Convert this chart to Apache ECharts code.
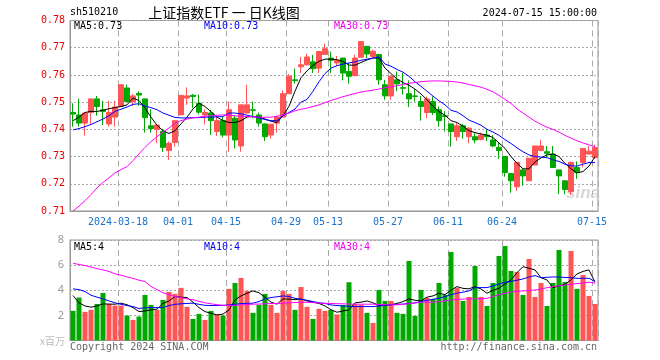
<!DOCTYPE html>
<html><head><meta charset="utf-8">
<script src="https://cdn.jsdelivr.net/npm/echarts@6/dist/echarts.min.js"></script>
<style>html,body{margin:0;padding:0;background:#fff}#c{width:660px;height:360px}</style>
</head><body><div id="c"></div>
<script>
const dates = [
'2024-03-06','2024-03-07','2024-03-08','2024-03-11','2024-03-12','2024-03-13','2024-03-14','2024-03-15',
'2024-03-18','2024-03-19','2024-03-20','2024-03-21','2024-03-22','2024-03-25','2024-03-26','2024-03-27','2024-03-28','2024-03-29',
'2024-04-01','2024-04-02','2024-04-03','2024-04-08','2024-04-09','2024-04-10','2024-04-11','2024-04-12',
'2024-04-15','2024-04-16','2024-04-17','2024-04-18','2024-04-19','2024-04-22','2024-04-23','2024-04-24','2024-04-25','2024-04-26',
'2024-04-29','2024-04-30',
'2024-05-06','2024-05-07','2024-05-08','2024-05-09','2024-05-10','2024-05-13','2024-05-14','2024-05-15','2024-05-16','2024-05-17',
'2024-05-20','2024-05-21','2024-05-22','2024-05-23','2024-05-24','2024-05-27','2024-05-28','2024-05-29','2024-05-30','2024-05-31',
'2024-06-03','2024-06-04','2024-06-05','2024-06-06','2024-06-07','2024-06-11','2024-06-12','2024-06-13','2024-06-14',
'2024-06-17','2024-06-18','2024-06-19','2024-06-20','2024-06-21','2024-06-24','2024-06-25','2024-06-26','2024-06-27','2024-06-28',
'2024-07-01','2024-07-02','2024-07-03','2024-07-04','2024-07-05','2024-07-08','2024-07-09','2024-07-10','2024-07-11','2024-07-12',
'2024-07-15'];
const tickDates = ['2024-03-18','2024-04-01','2024-04-15','2024-04-29','2024-05-13','2024-05-27','2024-06-11','2024-06-24','2024-07-15'];

const opens = [
.7462,.7453,.7423,.7462,.7512,.7472,.7420,.7445,.7484,.7552,
.7502,.7532,.7512,.7413,.7400,.7392,.7322,.7352,.7453,.7515,
.7525,.7496,.7453,.7460,.7392,.7432,.7379,.7441,.7339,.7460,
.7472,.7453,.7420,.7379,.7423,.7445,.7531,.7582,.7630,.7637,
.7648,.7625,.7675,.7662,.7644,.7662,.7613,.7597,.7665,.7705,
.7668,.7675,.7564,.7523,.7582,.7553,.7531,.7523,.7502,.7462,
.7502,.7472,.7450,.7420,.7373,.7413,.7373,.7373,.7363,.7379,
.7361,.7334,.7300,.7238,.7189,.7251,.7211,.7269,.7322,.7318,
.7309,.7251,.7211,.7171,.7260,.7278,.7309,.7296];
const closes = [
.7456,.7423,.7460,.7512,.7484,.7466,.7462,.7482,.7564,.7502,
.7523,.7526,.7443,.7403,.7416,.7334,.7349,.7432,.7525,.7523,
.7521,.7463,.7462,.7432,.7432,.7379,.7472,.7361,.7490,.7490,
.7470,.7423,.7373,.7419,.7445,.7531,.7595,.7579,.7637,.7666,
.7623,.7686,.7696,.7654,.7654,.7607,.7595,.7662,.7723,.7677,
.7687,.7582,.7523,.7595,.7567,.7551,.7512,.7521,.7484,.7512,
.7462,.7432,.7447,.7392,.7413,.7392,.7404,.7361,.7379,.7373,
.7339,.7322,.7241,.7211,.7279,.7229,.7294,.7339,.7339,.7312,
.7260,.7229,.7179,.7278,.7241,.7330,.7320,.7333];
const lows = [
.7410,.7410,.7377,.7419,.7450,.7416,.7410,.7410,.7484,.7502,
.7486,.7486,.7388,.7388,.7349,.7317,.7287,.7336,.7453,.7490,
.7478,.7455,.7418,.7379,.7376,.7371,.7318,.7330,.7318,.7460,
.7441,.7410,.7357,.7366,.7388,.7445,.7531,.7568,.7607,.7634,
.7607,.7607,.7675,.7607,.7634,.7580,.7568,.7597,.7665,.7662,
.7662,.7564,.7509,.7509,.7540,.7528,.7482,.7502,.7432,.7441,
.7453,.7410,.7392,.7336,.7357,.7366,.7349,.7349,.7360,.7357,
.7334,.7291,.7226,.7167,.7174,.7193,.7211,.7269,.7322,.7297,
.7260,.7162,.7162,.7158,.7218,.7260,.7309,.7292];
const highs = [
.7496,.7512,.7462,.7512,.7523,.7505,.7505,.7505,.7564,.7564,
.7530,.7540,.7512,.7474,.7418,.7402,.7355,.7432,.7525,.7554,
.7530,.7528,.7474,.7472,.7445,.7445,.7502,.7453,.7490,.7564,
.7502,.7462,.7420,.7419,.7450,.7543,.7603,.7623,.7666,.7678,
.7674,.7686,.7715,.7686,.7670,.7662,.7644,.7674,.7723,.7705,
.7693,.7675,.7582,.7595,.7613,.7607,.7580,.7548,.7523,.7521,
.7521,.7484,.7466,.7420,.7423,.7420,.7408,.7386,.7388,.7400,
.7379,.7352,.7300,.7238,.7279,.7257,.7294,.7339,.7361,.7339,
.7339,.7251,.7211,.7282,.7282,.7330,.7339,.7343];

const ma5 = [
.7432,.7445,.7462,.7466,.7466,.7470,.7476,.7480,.7484,.7490,
.7515,.7506,.7478,.7445,.7415,.7395,.7385,.7395,.7420,.7445,
.7475,.7496,.7484,.7465,.7445,.7432,.7425,.7425,.7432,.7445,
.7448,.7445,.7438,.7430,.7425,.7450,.7485,.7540,.7590,.7615,
.7635,.7650,.7658,.7658,.7656,.7650,.7636,.7636,.7646,.7655,
.7662,.7662,.7625,.7605,.7585,.7572,.7562,.7548,.7530,.7509,
.7485,.7465,.7452,.7432,.7425,.7412,.7395,.7388,.7383,.7379,
.7370,.7350,.7330,.7300,.7275,.7255,.7255,.7280,.7295,.7306,
.7310,.7300,.7275,.7255,.7240,.7245,.7265,.7300];
const ma10 = [
.7398,.7403,.7410,.7418,.7428,.7438,.7450,.7466,.7474,.7482,
.7492,.7494,.7485,.7480,.7472,.7460,.7452,.7444,.7442,.7442,
.7443,.7443,.7445,.7445,.7446,.7447,.7460,.7460,.7457,.7452,
.7447,.7442,.7436,.7432,.7432,.7450,.7462,.7475,.7500,.7510,
.7540,.7575,.7605,.7625,.7634,.7640,.7644,.7648,.7654,.7658,
.7662,.7666,.7640,.7632,.7620,.7610,.7595,.7575,.7558,.7540,
.7522,.7505,.7490,.7470,.7464,.7450,.7434,.7425,.7415,.7400,
.7390,.7378,.7362,.7348,.7332,.7318,.7306,.7300,.7298,.7296,
.7288,.7282,.7272,.7266,.7265,.7272,.7278,.7278];
const ma30 = [
.7100,.7118,.7138,.7160,.7185,.7205,.7222,.7240,.7252,.7263,
.7285,.7310,.7334,.7355,.7373,.7390,.7405,.7423,.7432,.7438,
.7442,.7445,.7448,.7450,.7452,.7453,.7452,.7450,.7448,.7447,
.7446,.7445,.7444,.7445,.7448,.7453,.7460,.7468,.7474,.7478,
.7484,.7490,.7498,.7506,.7513,.7520,.7526,.7532,.7537,.7541,
.7544,.7548,.7553,.7556,.7560,.7565,.7569,.7572,.7575,.7577,
.7578,.7578,.7577,.7576,.7574,.7570,.7565,.7560,.7555,.7547,
.7538,.7525,.7510,.7495,.7475,.7460,.7445,.7430,.7418,.7408,
.7400,.7390,.7378,.7368,.7358,.7350,.7343,.7336];

const volumes = [
2.36,3.42,2.28,2.44,2.91,3.79,2.91,2.78,2.78,1.99,
1.64,1.91,3.63,2.83,2.44,3.23,3.87,3.71,4.19,2.68,
1.72,2.12,1.64,2.36,2.04,1.99,4.11,4.58,4.98,3.95,
2.20,2.83,3.71,2.83,2.20,3.95,3.71,2.44,4.26,2.68,
1.72,2.52,2.36,2.44,2.07,2.83,4.64,2.91,2.83,2.20,
1.40,4.03,3.15,3.15,2.20,2.12,6.33,1.96,4.03,3.39,
3.31,4.58,3.63,7.05,4.19,3.15,3.47,5.93,3.47,2.75,
4.58,6.73,7.52,5.54,5.46,3.63,6.49,3.47,4.58,2.75,
4.58,7.21,4.66,7.13,4.11,5.22,3.55,2.91];
const volMa5 = [
3.58,3.00,2.75,2.65,2.75,2.91,2.90,2.89,2.97,2.85,
2.62,2.30,2.35,2.44,2.50,2.95,3.15,3.50,3.45,3.42,
3.05,2.62,2.30,2.17,2.04,2.10,2.44,3.23,3.55,3.76,
3.95,3.80,3.45,3.05,2.89,3.31,3.30,3.25,3.31,3.15,
3.05,2.95,2.75,2.45,2.25,2.35,2.44,3.00,3.05,3.15,
3.00,2.78,2.80,2.85,2.95,3.10,3.31,3.20,3.15,3.45,
3.55,3.76,3.65,4.00,4.29,4.15,4.11,4.29,4.10,3.76,
4.00,4.16,4.50,4.82,5.40,5.88,5.75,5.62,5.00,4.82,
4.21,4.35,4.48,4.82,5.30,5.50,5.62,4.64];
const volMa10 = [
4.11,4.05,3.90,3.60,3.45,3.31,3.15,3.00,2.88,2.78,
2.70,2.55,2.60,2.62,2.62,2.62,2.78,2.88,2.92,2.95,
2.97,2.88,2.80,2.78,2.78,2.80,2.83,2.88,2.94,2.96,
2.97,3.10,3.31,3.42,3.48,3.55,3.50,3.36,3.28,3.20,
3.10,3.00,2.95,2.83,2.78,2.75,2.72,2.70,2.70,2.70,
2.70,2.75,2.80,2.85,2.88,2.90,2.95,3.00,3.10,3.20,
3.28,3.36,3.50,3.65,3.76,3.85,3.95,4.21,4.21,4.21,
4.35,4.50,4.64,4.70,4.80,4.90,5.05,5.17,5.00,5.03,
5.06,5.05,5.02,5.00,4.95,4.95,4.95,4.70];
const volMa30 = [
6.15,6.05,5.96,5.85,5.72,5.62,5.50,5.30,5.20,5.05,
4.95,4.80,4.69,4.30,4.05,3.80,3.65,3.50,3.42,3.31,
3.25,3.12,3.00,2.92,2.85,2.80,2.78,2.80,2.83,2.86,
2.89,2.90,2.92,2.94,2.95,2.97,3.00,3.02,3.05,3.04,
3.02,2.98,2.96,2.95,2.93,2.92,2.90,2.89,2.89,2.89,
2.89,2.87,2.85,2.83,2.84,2.88,2.93,2.98,3.05,3.05,
3.05,3.08,3.15,3.23,3.26,3.30,3.31,3.32,3.32,3.35,
3.50,3.65,3.76,3.85,3.92,3.95,3.98,4.02,4.10,4.20,
4.29,4.35,4.42,4.48,4.53,4.58,4.64,4.56];

const UP = '#ff5555', DOWN = '#00a800';
const MONO = '"DejaVu Sans Mono", "Liberation Mono", monospace';

const kData = opens.map((o, i) => [o, closes[i], lows[i], highs[i]]);
const volData = volumes.map((v, i) => ({
  value: v,
  itemStyle: { color: closes[i] >= opens[i] ? UP : DOWN }
}));
const isTick = (idx, val) => tickDates.indexOf(val) >= 0;

function maLine(name, data, color, xi, yi) {
  return { name, type: 'line', data, xAxisIndex: xi, yAxisIndex: yi, symbol: 'none',
    lineStyle: { color, width: 1 }, itemStyle: { color }, silent: true, z: 5 };
}

const chart = echarts.init(document.getElementById('c'));
const gridLine = { show: true, lineStyle: { color: '#aaaaaa', type: [3, 3], width: 1 } };

chart.setOption({
  animation: false,
  backgroundColor: '#fff',
  grid: [
    { left: 70, right: 62, top: 20.5, height: 190.5, show: true, borderColor: '#999', borderWidth: 1 },
    { left: 70, right: 62, top: 240, height: 100.5, show: true, borderColor: '#999', borderWidth: 1 }
  ],
  xAxis: [
    { type: 'category', data: dates, gridIndex: 0, boundaryGap: true,
      axisLine: { lineStyle: { color: '#999' } }, axisTick: { show: false },
      splitLine: { show: true, interval: isTick, lineStyle: { color: '#aaaaaa', type: [6, 4], width: 1 } },
      axisLabel: { interval: isTick, color: '#1a73c9', fontFamily: MONO, fontSize: 10, margin: 6,
        padding: [0, 6, 0, 0],
        formatter: v => v === '2024-03-18' ? v : v.slice(5) } },
    { type: 'category', data: dates, gridIndex: 1, boundaryGap: true,
      axisLine: { lineStyle: { color: '#999' } }, axisTick: { show: false }, axisLabel: { show: false },
      splitLine: { show: true, interval: isTick, lineStyle: { color: '#aaaaaa', type: [6, 4], width: 1 } } }
  ],
  yAxis: [
    { type: 'value', gridIndex: 0, min: 0.71, max: 0.78, interval: 0.01, scale: true,
      axisLine: { show: true, lineStyle: { color: '#999' } }, axisTick: { show: false },
      splitLine: { show: true, lineStyle: { color: '#aaaaaa', type: [2, 2], width: 1 } },
      axisLabel: { color: '#ee0000', fontFamily: MONO, fontSize: 10, margin: 5, formatter: v => v.toFixed(2) } },
    { type: 'value', gridIndex: 1, min: 0, max: 8, interval: 2,
      axisLine: { show: true, lineStyle: { color: '#999' } }, axisTick: { show: false },
      splitLine: { show: true, lineStyle: { color: '#aaaaaa', type: [2, 2], width: 1 } },
      axisLabel: { color: '#999', fontFamily: 'Noto Sans, sans-serif', fontSize: 11, margin: 6,
        formatter: v => v === 0 ? '' : String(v) } }
  ],
  series: [
    { type: 'candlestick', data: kData, xAxisIndex: 0, yAxisIndex: 0, barWidth: 5,
      itemStyle: { color: UP, color0: DOWN, borderColor: UP, borderColor0: DOWN, borderWidth: 1 }, z: 3 },
    maLine('MA5', ma5, '#000000', 0, 0),
    maLine('MA10', ma10, '#0000ff', 0, 0),
    maLine('MA30', ma30, '#ff00ff', 0, 0),
    { type: 'bar', data: volData, xAxisIndex: 1, yAxisIndex: 1, barWidth: 5, z: 3 },
    maLine('VMA5', volMa5, '#000000', 1, 1),
    maLine('VMA10', volMa10, '#0000ff', 1, 1),
    maLine('VMA30', volMa30, '#ff00ff', 1, 1)
  ],
  graphic: [
    { type: 'text', left: 70, top: 7, style: { text: 'sh510210', font: '10px ' + MONO, fill: '#000' } },
    { type: 'text', x: 224, y: 13, style: { text: '上证指数ETF 一 日K线图', font: '14px "Noto Sans CJK SC", sans-serif', fill: '#000', align: 'center', verticalAlign: 'middle' } },
    { type: 'text', x: 597, y: 13, style: { text: '2024-07-15 15:00:00', font: '10px ' + MONO, fill: '#000', align: 'right', verticalAlign: 'middle' } },
    { type: 'text', x: 74, y: 26, style: { text: 'MA5:0.73', font: '10px ' + MONO, fill: '#000', verticalAlign: 'middle' }, z: 10 },
    { type: 'text', x: 204, y: 26, style: { text: 'MA10:0.73', font: '10px ' + MONO, fill: '#0000ee', verticalAlign: 'middle' }, z: 10 },
    { type: 'text', x: 334, y: 26, style: { text: 'MA30:0.73', font: '10px ' + MONO, fill: '#ee00ee', verticalAlign: 'middle' }, z: 10 },
    { type: 'text', x: 74, y: 247, style: { text: 'MA5:4', font: '10px ' + MONO, fill: '#000', verticalAlign: 'middle' }, z: 10 },
    { type: 'text', x: 204, y: 247, style: { text: 'MA10:4', font: '10px ' + MONO, fill: '#0000ee', verticalAlign: 'middle' }, z: 10 },
    { type: 'text', x: 334, y: 247, style: { text: 'MA30:4', font: '10px ' + MONO, fill: '#ee00ee', verticalAlign: 'middle' }, z: 10 },
    { type: 'text', x: 65, y: 341, style: { text: 'x百万', font: '10px "Noto Sans CJK SC", sans-serif', fill: '#bbb', align: 'right', verticalAlign: 'middle' } },
    { type: 'text', x: 70, y: 347, style: { text: 'Copyright 2024 SINA.COM', font: '10px ' + MONO, fill: '#666', verticalAlign: 'middle' } },
    { type: 'text', x: 597, y: 347, style: { text: 'http://finance.sina.com.cn', font: '10px ' + MONO, fill: '#666', align: 'right', verticalAlign: 'middle' } },
    { type: 'text', x: 566, y: 193, style: { text: 'sina', font: 'italic bold 17px "Liberation Sans", sans-serif', fill: 'rgba(200,200,200,0.7)', verticalAlign: 'middle' }, z: 1 }
  ]
});
</script></body></html>
